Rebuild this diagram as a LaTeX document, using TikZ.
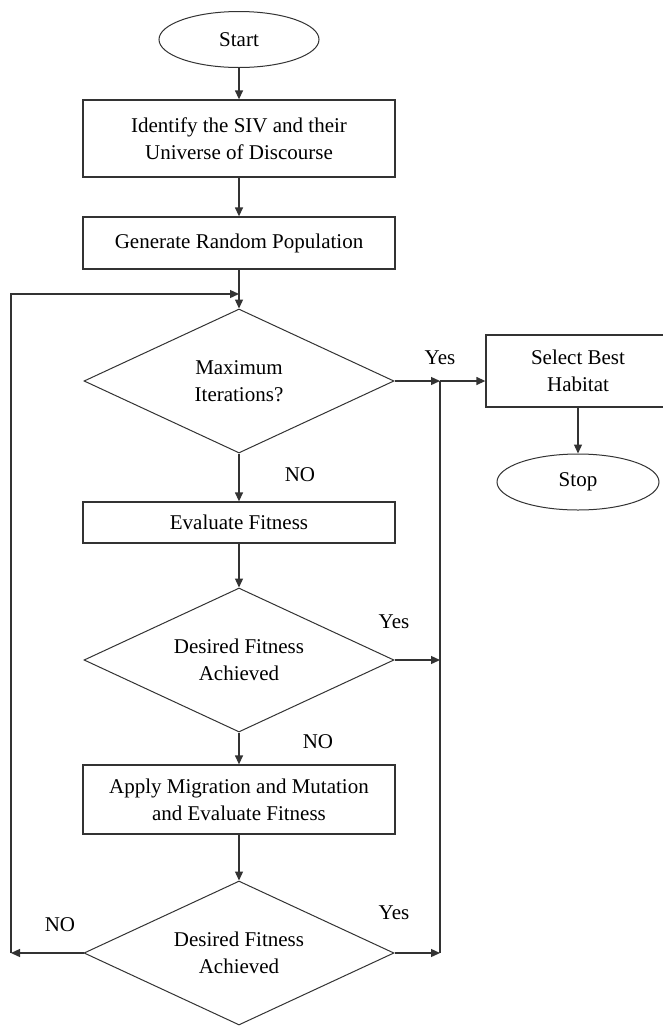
\documentclass[tikz,border=0pt]{standalone}
\usepackage{fontspec}
\setmainfont{Liberation Serif}
\usetikzlibrary{shapes.geometric,arrows.meta}
\begin{document}
\begin{tikzpicture}[x=1pt,y=-1pt,
  line width=1.3pt,
  every node/.style={font=\fontsize{21}{27}\selectfont,text=black},
  flowline/.style={draw=black!80},
  arr/.style={flowline,-{Triangle[length=9pt,width=8pt]}},
  terminal/.style={ellipse,draw=black!80,line width=1pt,inner sep=0pt,minimum width=160pt,minimum height=56pt},
  process/.style={rectangle,draw=black!80,line width=1.3pt,align=center,inner sep=0pt,minimum width=312pt},
  decision/.style={diamond,draw=black!80,line width=1pt,align=center,inner sep=0pt,aspect=2.15,minimum width=310pt,minimum height=144pt},
  tag/.style={inner sep=0pt}]
\useasboundingbox (0,0) rectangle (663,1026);
\fill[white] (0,0) rectangle (663,1026);

% main column
\node[terminal] (start) at (239,39.5) {Start};
\node[process,minimum height=77pt] (siv) at (239,138.5) {Identify the SIV and their\\Universe of Discourse};
\node[process,minimum height=52pt] (gen) at (239,243) {Generate Random Population};
\node[decision] (maxit) at (239,381) {Maximum\\Iterations?};
\node[process,minimum height=41pt] (eval) at (239,522.5) {Evaluate Fitness};
\node[decision] (fit1) at (239,660) {Desired Fitness\\Achieved};
\node[process,minimum height=69pt] (mig) at (239,799.5) {Apply Migration and Mutation\\and Evaluate Fitness};
\node[decision] (fit2) at (239,953) {Desired Fitness\\Achieved};

% exit column
\node[rectangle,draw=black!80,line width=1.3pt,align=center,minimum width=184pt,minimum height=72pt,inner sep=0pt] (best) at (578,371) {Select Best\\Habitat};
\node[terminal,minimum width=162pt] (stop) at (578,482) {Stop};

% routing points
\coordinate (join) at (239,294);
\coordinate (loopTop) at (11,294);
\coordinate (loopBot) at (11,953);
\coordinate (busTop) at (440,381);
\coordinate (busMid) at (440,660);
\coordinate (busBot) at (440,953);

% labels
\node[tag] (yes1) at (440,358) {Yes};
\node[tag] (no1) at (300,475) {NO};
\node[tag] (yes2) at (394,622) {Yes};
\node[tag] (no2) at (318,742) {NO};
\node[tag] (yes3) at (394,913) {Yes};
\node[tag] (no3) at (60,925) {NO};

% connectors
\draw[arr] (start) -- (siv);
\draw[arr] (siv) -- (gen);
\draw[arr] (gen) -- (maxit);
\draw[arr] (maxit) -- (eval);
\draw[arr] (eval) -- (fit1);
\draw[arr] (fit1) -- (mig);
\draw[arr] (mig) -- (fit2);
\draw[arr] (maxit.east) -- (busTop);
\draw[arr] (busTop) -- (busTop -| best.west);
\draw[arr] (best.south -| stop) -- (stop);
\draw[flowline] (busTop) -- (busBot);
\draw[arr] (fit1.east) -- (busMid);
\draw[arr] (fit2.east) -- (busBot);
\draw[arr] (fit2.west) -- (loopBot);
\draw[arr] (loopBot) -- (loopTop) -- (join);
\end{tikzpicture}
\end{document}
